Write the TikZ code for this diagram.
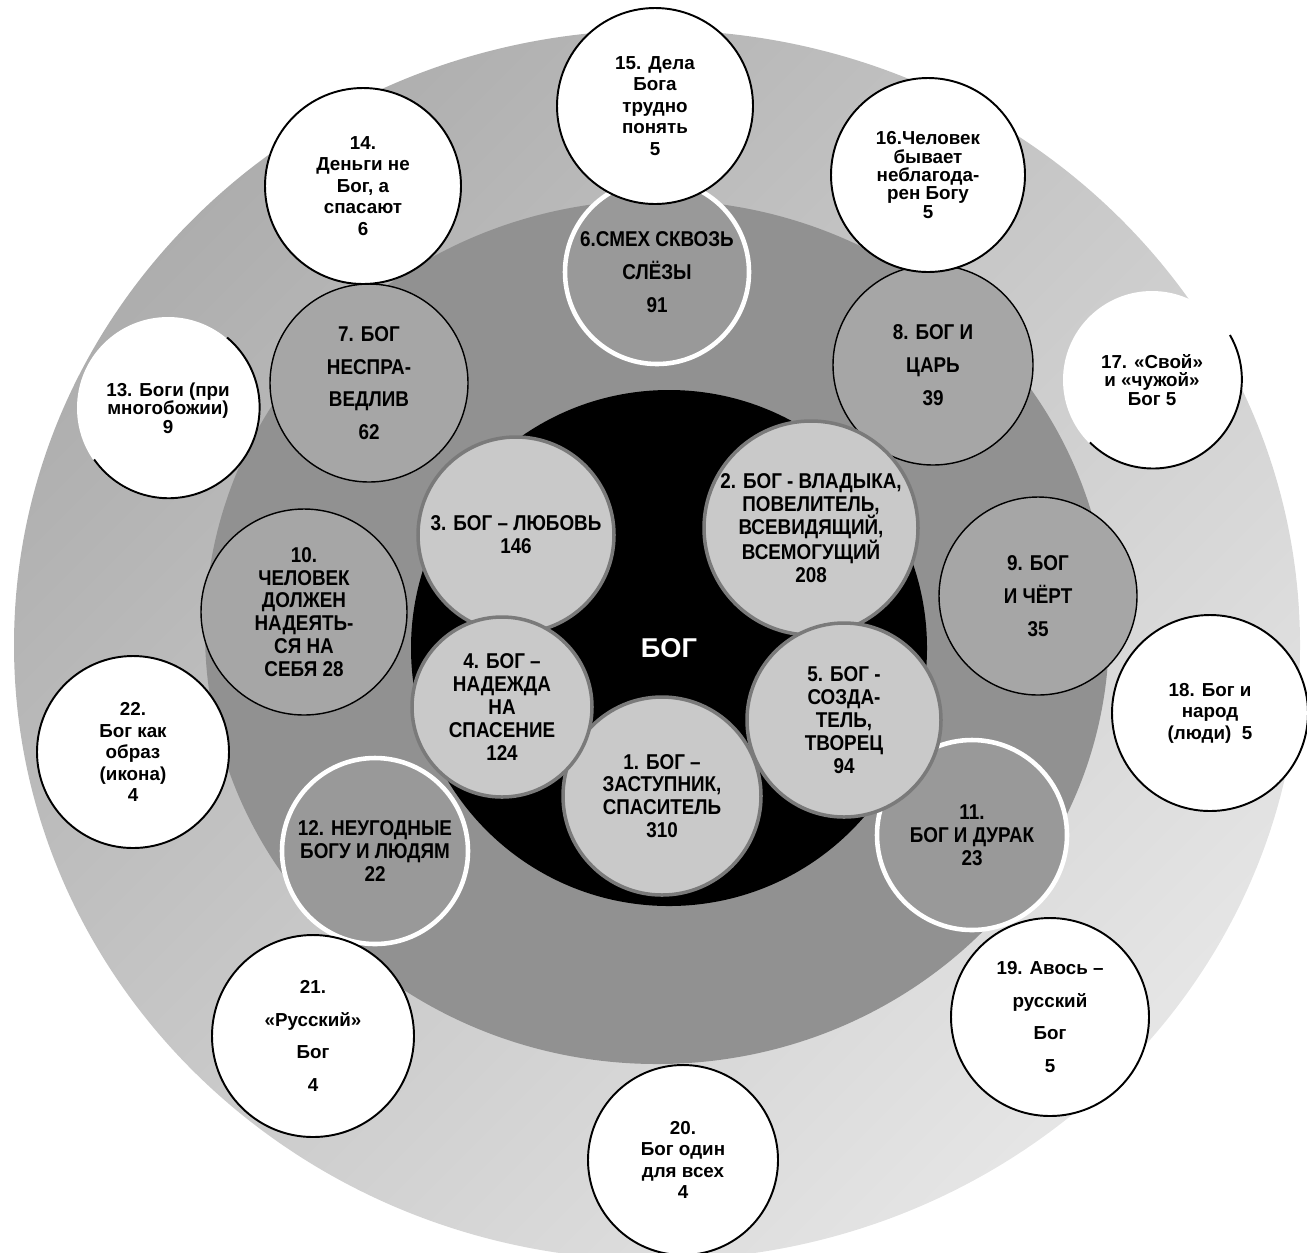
\documentclass[tikz,border=0pt]{standalone}
\usepackage{fontspec}
\setmainfont{Liberation Sans}
\newfontfamily\capsfont[FakeStretch=0.88]{Liberation Sans}
\usepackage{tikz}

\tikzset{
  bubble/.style={circle, inner sep=-0.8cm, align=center},
  diam/.style={minimum size=#1*0.02cm},
  capstext/.style={font=\capsfont\bfseries\fontsize{12.2}{13}\selectfont},
  capswide/.style={font=\capsfont\bfseries\fontsize{12.2}{18.6}\selectfont},
  plaintext/.style={font=\bfseries\fontsize{10.7}{12.2}\selectfont},
  plainwide/.style={font=\bfseries\fontsize{10.7}{18.6}\selectfont},
  plaintight/.style={font=\bfseries\fontsize{10.7}{10.4}\selectfont},
  core/.style={bubble, fill=black!21, draw=black!52, line width=2pt, capstext},
  ring/.style={bubble, fill=black!35, draw=black, line width=0.8pt, capswide},
  ringw/.style={bubble, fill=black!40, draw=white, line width=2.6pt, capstext},
  outer/.style={bubble, fill=white, draw=black, line width=1.1pt, plaintext}
}

\begin{document}
\begin{tikzpicture}[x=0.02cm,y=-0.02cm]
\useasboundingbox (0,0) rectangle (1307,1252);

\shade[top color=black!32, bottom color=black!10, shading angle=45] (657,645) ellipse [x radius=643, y radius=615];
\fill[black!43] (657,632) ellipse [x radius=452, y radius=432];

\node[bubble, fill=black, diam=516, text=white, font=\bfseries\fontsize{15.5}{18}\selectfont] (bog) at (669,648) {БОГ};

\node[ringw, capswide, diam=184] (c6) at (657,272) {6.СМЕХ СКВОЗЬ\\СЛЁЗЫ\\91};
\node[ring, diam=198] (c7) at (369,383) {7. БОГ\\НЕСПРА-\\ВЕДЛИВ\\62};
\node[ring, diam=200] (c8) at (933,365) {8. БОГ И\\ЦАРЬ\\39};
\node[ring, diam=198] (c9) at (1038,596) {9. БОГ\\И ЧЁРТ\\35};
\node[ring, capstext, diam=206] (c10) at (304,612) {10.\\ЧЕЛОВЕК\\ДОЛЖЕН\\НАДЕЯТЬ-\\СЯ НА\\СЕБЯ 28};
\node[ringw, diam=190] (c11) at (972,835) {11.\\БОГ И ДУРАК\\23};
\node[ringw, diam=186] (c12) at (375,851) {12. НЕУГОДНЫЕ\\БОГУ И ЛЮДЯМ\\22};

\node[outer, draw=none, plaintight, diam=182] (c13) at (168,408) {13. Боги (при\\многобожии)\\9};
\node[outer, diam=196] (c14) at (363,186) {14.\\Деньги не\\Бог, а\\спасают\\6};
\node[outer, diam=196] (c15) at (655,106) {15. Дела\\Бога\\трудно\\понять\\5};
\node[outer, plaintight, diam=194] (c16) at (928,175) {16.Человек\\бывает\\неблагода-\\рен Богу\\5};
\node[outer, draw=none, plaintight, diam=178] (c17) at (1152,380) {17. «Свой»\\и «чужой»\\Бог 5};
\node[outer, diam=196] (c18) at (1210,713) {18. Бог и\\народ\\(люди)\ \ 5};
\node[outer, plainwide, diam=198] (c19) at (1050,1017) {19. Авось –\\русский\\Бог\\5};
\node[outer, diam=190] (c20) at (683,1160) {20.\\Бог один\\для всех\\4};
\node[outer, plainwide, diam=202] (c21) at (313,1036) {21.\\«Русский»\\Бог\\4};
\node[outer, diam=192] (c22) at (133,752) {22.\\Бог как\\образ\\(икона)\\4};

\draw[line width=1.1pt] (c13.50) arc [start angle=50, end angle=-145, radius=1.82cm];
\draw[line width=1.1pt] (c17.30) arc [start angle=30, end angle=-135, radius=1.78cm];

\node[core, diam=196] (c3) at (516,535) {3. БОГ – ЛЮБОВЬ\\146};
\node[core, diam=214] (c2) at (811,528) {2. БОГ - ВЛАДЫКА,\\ПОВЕЛИТЕЛЬ,\\ВСЕВИДЯЩИЙ,\\ВСЕМОГУЩИЙ\\208};
\node[core, diam=198] (c1) at (662,796) {1. БОГ –\\ЗАСТУПНИК,\\СПАСИТЕЛЬ\\310};
\node[core, diam=180] (c4) at (502,707) {4. БОГ –\\НАДЕЖДА\\НА\\СПАСЕНИЕ\\124};
\node[core, diam=194] (c5) at (844,720) {5. БОГ -\\СОЗДА-\\ТЕЛЬ,\\ТВОРЕЦ\\94};

\end{tikzpicture}
\end{document}
